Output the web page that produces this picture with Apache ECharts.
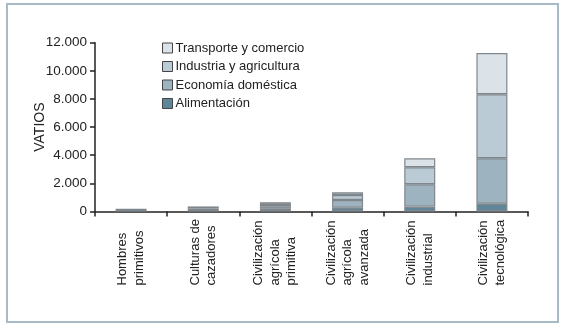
<!DOCTYPE html>
<html><head><meta charset="utf-8">
<script src="https://cdn.jsdelivr.net/npm/echarts@6/dist/echarts.min.js"></script>
<style>html,body{margin:0;padding:0;background:#fff}#c{width:564px;height:329px}</style>
</head><body><div id="c"></div>
<script>
const categories = ["Hombres\nprimitivos", "Culturas de\ncazadores", "Civilización\nagrícola\nprimitiva", "Civilización\nagrícola\navanzada", "Civilización\nindustrial", "Civilización\ntecnológica"];
const alimentacion = [200, 200, 190, 270, 350, 555];
const economia = [null, 160, 180, 550, 1590, 3235];
const industria = [null, null, 170, 355, 1210, 4550];
const transporte = [null, null, 120, 195, 640, 2920];
const yTicks = [0, 2000, 4000, 6000, 8000, 10000, 12000];

const FONT = "Liberation Sans, Arial, sans-serif";
const colors = {
  alim: "#5f8599", eco: "#9db3c0", ind: "#bacbd5", tra: "#dbe3e9"
};
function mk(name, data, color) {
  return {
    name, type: "bar", stack: "t", data, barWidth: 31,
    itemStyle: { color, borderColor: "#80878c", borderWidth: 1.2 },
    emphasis: { disabled: true }
  };
}
const chart = echarts.init(document.getElementById("c"), null, { renderer: "canvas" });
chart.setOption({
  animation: false,
  textStyle: { fontFamily: FONT },
  graphic: [{
    type: "rect", shape: { x: 7, y: 4, width: 551, height: 318 },
    style: { fill: "none", stroke: "#a8bac5", lineWidth: 2 }, silent: true
  }],
  grid: { left: 95, right: 36, top: 42.7, bottom: 117.5, containLabel: false },
  legend: {
    orient: "vertical", left: 157, top: 36, icon: "rect",
    itemWidth: 10, itemHeight: 10, itemGap: 4.5,
    data: ["Transporte y comercio", "Industria y agricultura", "Economía doméstica", "Alimentación"],
    textStyle: { fontSize: 13, color: "#222", fontFamily: FONT, lineHeight: 14, padding: [0, 0, 0, -2] },
    itemStyle: { borderColor: "#444", borderWidth: 1 },
    selectedMode: false
  },
  xAxis: {
    type: "category", data: categories,
    axisLine: { lineStyle: { color: "#222", width: 1.5 } },
    axisTick: { show: true, alignWithLabel: false, length: 5, lineStyle: { color: "#222", width: 1.5 } },
    axisLabel: {
      rotate: 90, align: "left", verticalAlign: "middle", margin: 74, interval: 0,
      fontSize: 13, lineHeight: 16.5, color: "#222", fontFamily: FONT
    }
  },
  yAxis: {
    type: "value", min: 0, max: 12000, interval: 2000,
    name: "VATIOS", nameLocation: "middle", nameGap: 48, nameRotate: 90,
    nameMoveOverlap: false,
    nameTextStyle: { fontSize: 14, color: "#222", fontFamily: FONT },
    axisLine: { show: true, lineStyle: { color: "#222", width: 1.5 } },
    axisTick: { show: true, length: 5, lineStyle: { color: "#222", width: 1.5 } },
    splitLine: { show: false },
    axisLabel: {
      fontSize: 13.5, color: "#222", margin: 8, fontFamily: FONT,
      formatter: v => yTicks.includes(v) ? String(v).replace(/\B(?=(\d{3})+(?!\d))/g, ".") : ""
    }
  },
  series: [
    mk("Alimentación", alimentacion, colors.alim),
    mk("Economía doméstica", economia, colors.eco),
    mk("Industria y agricultura", industria, colors.ind),
    mk("Transporte y comercio", transporte, colors.tra)
  ]
});
</script></body></html>
